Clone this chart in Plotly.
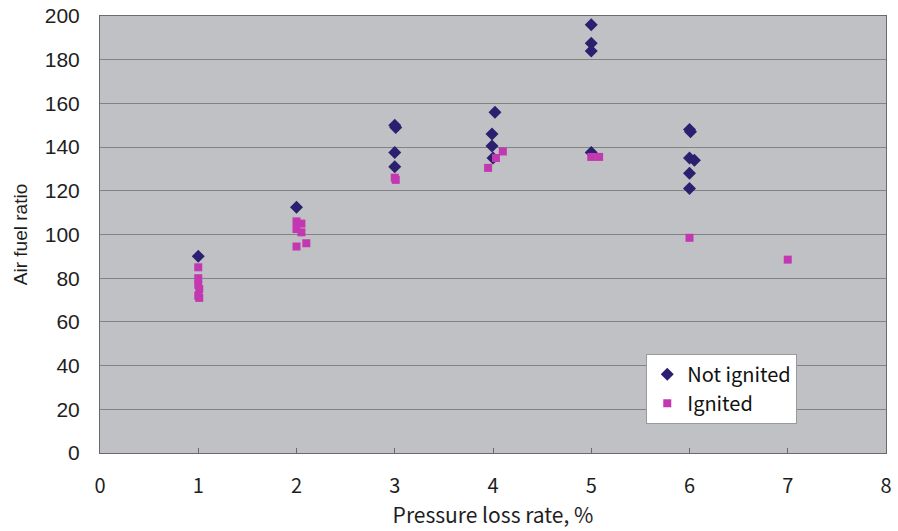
import plotly.graph_objects as go

# Not ignited runs
not_ignited_x = [1.0, 2.0, 3.0, 3.01, 3.0, 3.0, 4.02, 3.99, 3.99, 4.0, 5.0, 5.0, 5.0, 5.0, 6.0, 6.01, 6.0, 6.05, 6.0, 6.0]
not_ignited_y = [90, 112.5, 150, 149, 137.5, 131, 156, 146, 140.5, 135, 196, 187.5, 184, 137.5, 148, 147, 135, 134, 128, 121]

# Ignited runs
ignited_x = [1.0, 1.0, 1.0, 1.01, 1.0, 1.01, 2.0, 2.05, 2.0, 2.05, 2.0, 2.1, 3.0, 3.01, 3.95, 4.03, 4.1, 5.0, 5.08, 6.0, 7.0]
ignited_y = [85, 80, 77, 75, 72, 71, 106, 105, 102.5, 101, 94.5, 96, 126, 125, 130.5, 135, 138, 135.5, 135.5, 98.5, 88.5]

x_ticks = [0, 1, 2, 3, 4, 5, 6, 7, 8]
y_ticks = [0, 20, 40, 60, 80, 100, 120, 140, 160, 180, 200]

gothic = "Noto Sans CJK JP, sans-serif"

fig = go.Figure()
fig.add_trace(go.Scatter(
    x=not_ignited_x, y=not_ignited_y, mode="markers", name="Not ignited",
    marker=dict(symbol="diamond", size=10, color="#2b2070"),
))
fig.add_trace(go.Scatter(
    x=ignited_x, y=ignited_y, mode="markers", name="Ignited",
    marker=dict(symbol="square", size=8, color="#c338b1"),
))

fig.update_layout(
    width=898, height=531,
    margin=dict(l=100, r=12, t=16, b=78),
    paper_bgcolor="white",
    plot_bgcolor="#c0c1c4",
    font=dict(family="Liberation Sans, Arial, sans-serif", size=21, color="#1e1e1e"),
    showlegend=True,
    legend=dict(
        x=0.695, y=0.227, xanchor="left", yanchor="top",
        bgcolor="white", bordercolor="#9a9a9a", borderwidth=1,
        font=dict(family=gothic, size=20, color="#111111"),
        tracegroupgap=0, itemwidth=30,
    ),
    xaxis=dict(
        range=[0, 8], tickvals=x_ticks, ticktext=[str(v) for v in x_ticks],
        showgrid=False, zeroline=False, automargin=False,
        showline=True, linecolor="#6a6a6a", linewidth=1, mirror=True,
        ticks="inside", ticklen=5, tickcolor="#6a6a6a",
        ticklabelstandoff=15,
        tickfont=dict(family=gothic, size=20),
        title=dict(text="Pressure loss rate, %", standoff=8,
                   font=dict(family=gothic, size=21)),
    ),
    yaxis=dict(
        range=[0, 200], tickvals=y_ticks,
        showgrid=True, gridcolor="#838383", gridwidth=1, zeroline=False,
        automargin=False,
        showline=True, linecolor="#6a6a6a", linewidth=1, mirror=True,
        ticks="", ticklabelstandoff=15,
        title=dict(text="Air fuel ratio", standoff=12, font=dict(size=19)),
    ),
)

fig.write_html("out.html")
